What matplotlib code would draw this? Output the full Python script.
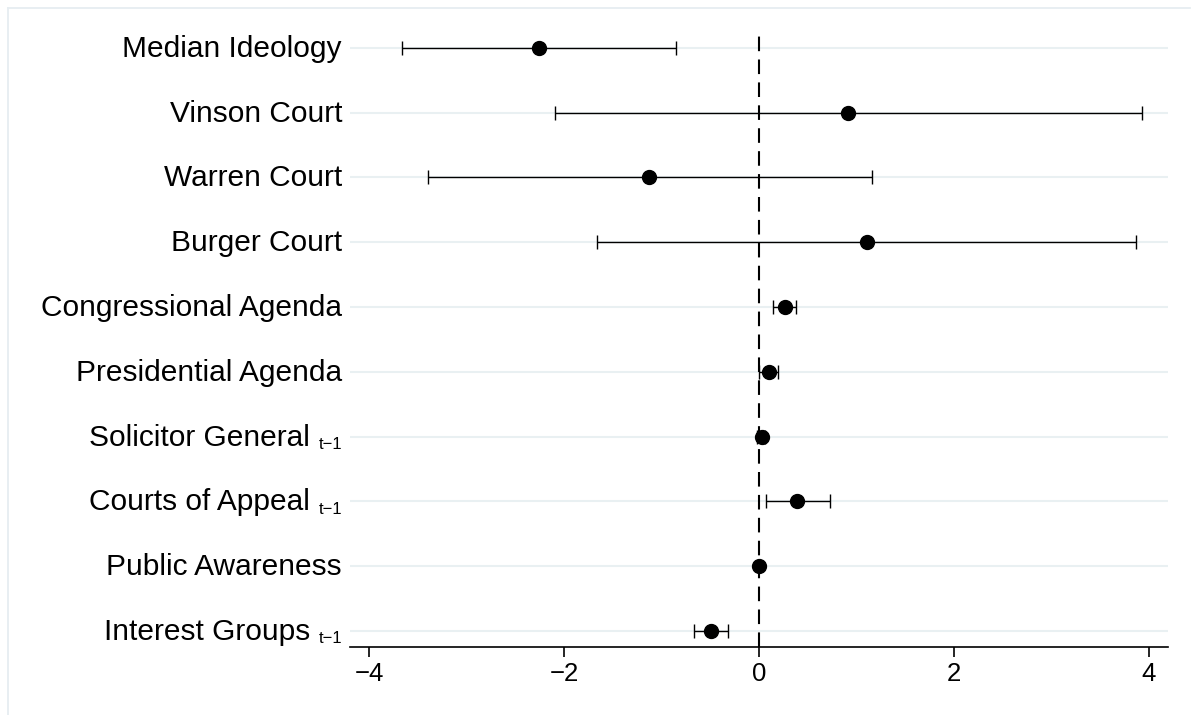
import numpy as np
import matplotlib
matplotlib.use("Agg")
import matplotlib.pyplot as plt
from matplotlib.lines import Line2D

plt.rcParams['font.family'] = ['Liberation Sans', 'DejaVu Sans']

# coefficient estimates and 95% intervals, top row first
labels = ["Median Ideology", "Vinson Court", "Warren Court", "Burger Court",
          "Congressional Agenda", "Presidential Agenda", "Solicitor General",
          "Courts of Appeal", "Public Awareness", "Interest Groups"]
subs = ["", "", "", "", "", "", "t\u22121", "t\u22121", "", "t\u22121"]
coef = [-2.26, 0.91, -1.13, 1.11, 0.27, 0.10, 0.03, 0.39, 0.00, -0.49]
lower = [-3.66, -2.09, -3.40, -1.66, 0.14, 0.00, -0.02, 0.07, -0.005, -0.67]
upper = [-0.85, 3.93, 1.16, 3.87, 0.38, 0.20, 0.06, 0.73, 0.005, -0.32]
xticks = [-4, -2, 0, 2, 4]

n = len(labels)
ypos = np.arange(n)[::-1]
coef = np.array(coef)
err = np.vstack([coef - np.array(lower), np.array(upper) - coef])

fig = plt.figure(figsize=(12, 7.15), dpi=100)
# light outer frame (left and top edges only show)
fx0, fy0, fx1 = 8 / 1200, 1 - 8 / 715, 1190 / 1200
fig.lines.append(Line2D([fx0, fx0], [0, fy0], transform=fig.transFigure,
                        color='#e6edf1', lw=1.3))
fig.lines.append(Line2D([fx0, fx1], [fy0, fy0], transform=fig.transFigure,
                        color='#e6edf1', lw=1.3))

ax = fig.add_axes([350 / 1200, 68 / 715, 818 / 1200, 614 / 715])

for y in ypos:
    ax.axhline(y, color='#e9f0f2', lw=1.5, zorder=0)
ax.axvline(0, color='black', lw=1.5, dashes=(7, 4), zorder=1)

ax.errorbar(coef, ypos, xerr=err, fmt='o', color='black', ecolor='black',
            elinewidth=1.0, capsize=4.8, capthick=1.0, markersize=10, zorder=3)

ax.set_xlim(-4.195, 4.195)
ax.set_ylim(-0.25, 9.23)
ax.set_xticks(xticks)
ax.set_xticklabels([str(t).replace('-', '\u2212') for t in xticks], fontsize=18.5)
ax.tick_params(axis='x', length=7, width=1.2, pad=4)
ax.set_yticks([])

for s in ['top', 'right', 'left']:
    ax.spines[s].set_visible(False)
ax.spines['bottom'].set_linewidth(1.2)

for y, lab, sub in zip(ypos, labels, subs):
    if sub:
        ax.annotate(sub, xy=(0, y), xycoords=('axes fraction', 'data'),
                    xytext=(-8, -8), textcoords='offset pixels',
                    ha='right', va='center', fontsize=12)
        ax.annotate(lab, xy=(0, y), xycoords=('axes fraction', 'data'),
                    xytext=(-40, -1), textcoords='offset pixels',
                    ha='right', va='center', fontsize=21.5)
    else:
        ax.annotate(lab, xy=(0, y), xycoords=('axes fraction', 'data'),
                    xytext=(-8, -1), textcoords='offset pixels',
                    ha='right', va='center', fontsize=21.5)

fig.savefig("out.png", dpi=100)
